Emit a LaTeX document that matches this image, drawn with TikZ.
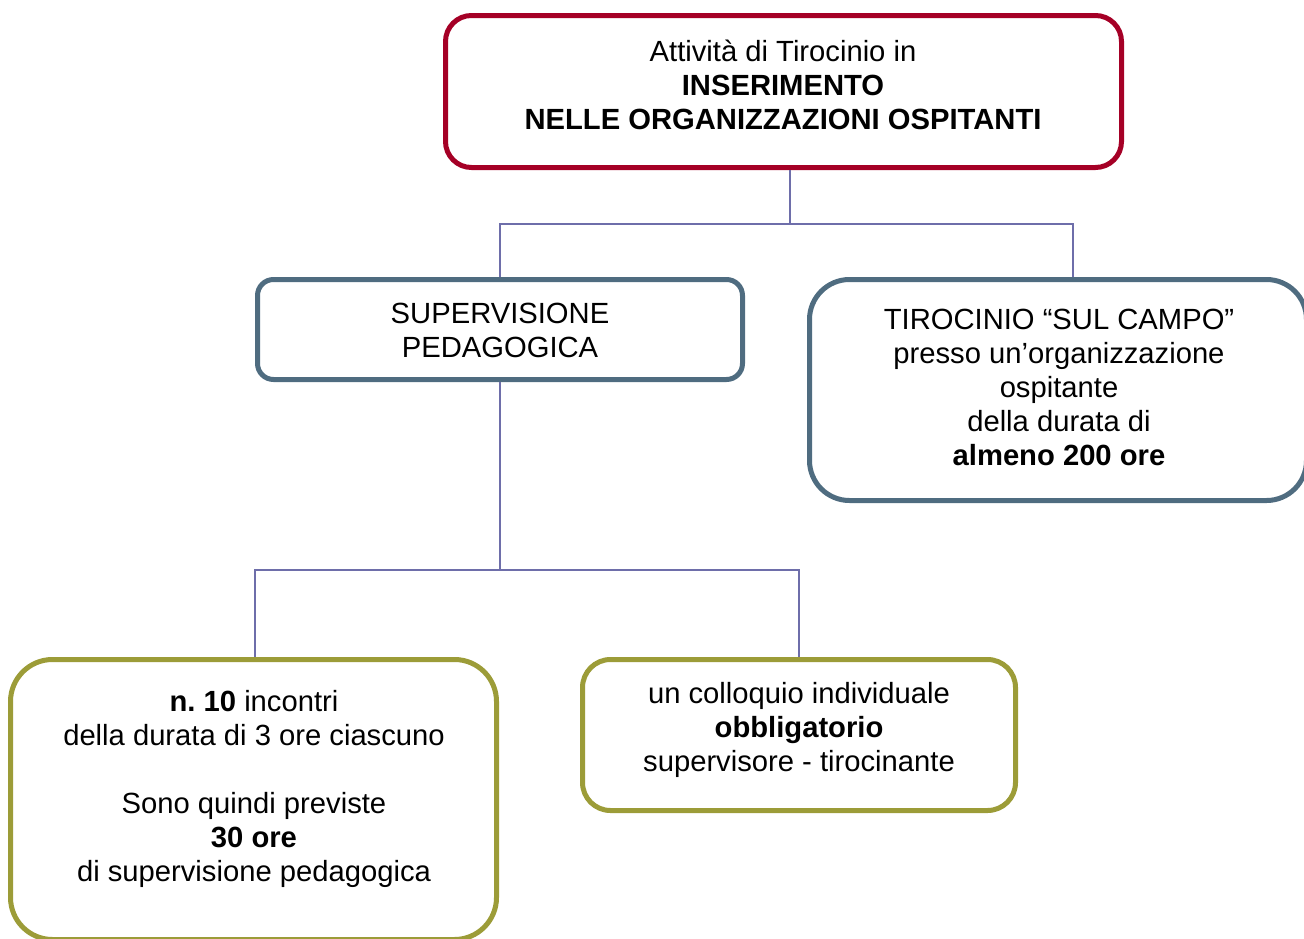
\documentclass[tikz,border=0pt]{standalone}
\usepackage{fontspec}
\setmainfont{Liberation Sans}
\definecolor{topred}{HTML}{A50026}
\definecolor{slate}{HTML}{4F6C80}
\definecolor{olive}{HTML}{9C9C38}
\definecolor{linkc}{HTML}{6E6EAA}
\begin{document}
\begin{tikzpicture}[x=1pt,y=-1pt,
  box/.style={draw, line width=5pt, fill=white, inner sep=0pt},
  txt/.style={align=center, inner sep=0pt, font=\fontsize{29.2}{34}\selectfont},
  link/.style={draw=linkc, line width=1.6pt}]
\useasboundingbox (0,0) rectangle (1304,938);

% boxes
\node[box, draw=topred, rounded corners=26pt, minimum width=676pt, minimum height=152pt] (top) at (783.5,91.5) {};
\node[box, draw=slate, rounded corners=16pt, minimum width=485pt, minimum height=100pt] (sup) at (500,329.5) {};
\node[box, draw=slate, rounded corners=40pt, minimum width=497pt, minimum height=221pt] (tir) at (1058,390) {};
\node[box, draw=olive, rounded corners=42pt, minimum width=486pt, minimum height=280pt] (n10) at (253.5,799.5) {};
\node[box, draw=olive, rounded corners=28pt, minimum width=433pt, minimum height=151pt] (col) at (799,735) {};

% connectors
\coordinate (j1) at (790,224);
\coordinate (j2) at (500,570);
\draw[link] (top.south -| j1) -- (j1);
\draw[link] (sup.north) |- (j1);
\draw[link] (j1) -| (1073,0 |- tir.north);
\draw[link] (sup.south) -- (j2);
\draw[link] (j2) -| (255,0 |- n10.north);
\draw[link] (j2) -| (col.north);

% texts
\node[txt] (toptxt) at (783,85) {Attività di Tirocinio in\\\textbf{INSERIMENTO}\\\textbf{NELLE ORGANIZZAZIONI OSPITANTI}};
\node[txt] (suptxt) at (500,330) {SUPERVISIONE\\PEDAGOGICA};
\node[txt] (tirtxt) at (1059,387) {TIROCINIO “SUL CAMPO”\\presso un’organizzazione\\ospitante\\della durata di\\\textbf{almeno 200 ore}};
\node[txt] (n10txt) at (254,789) {\textbf{n.\ 10} incontri\\della durata di 3 ore ciascuno\\[34pt]Sono quindi previste\\\textbf{30 ore}\\di supervisione pedagogica};
\node[txt] (coltxt) at (799,730) {un colloquio individuale\\\textbf{obbligatorio}\\supervisore - tirocinante};
\end{tikzpicture}
\end{document}
